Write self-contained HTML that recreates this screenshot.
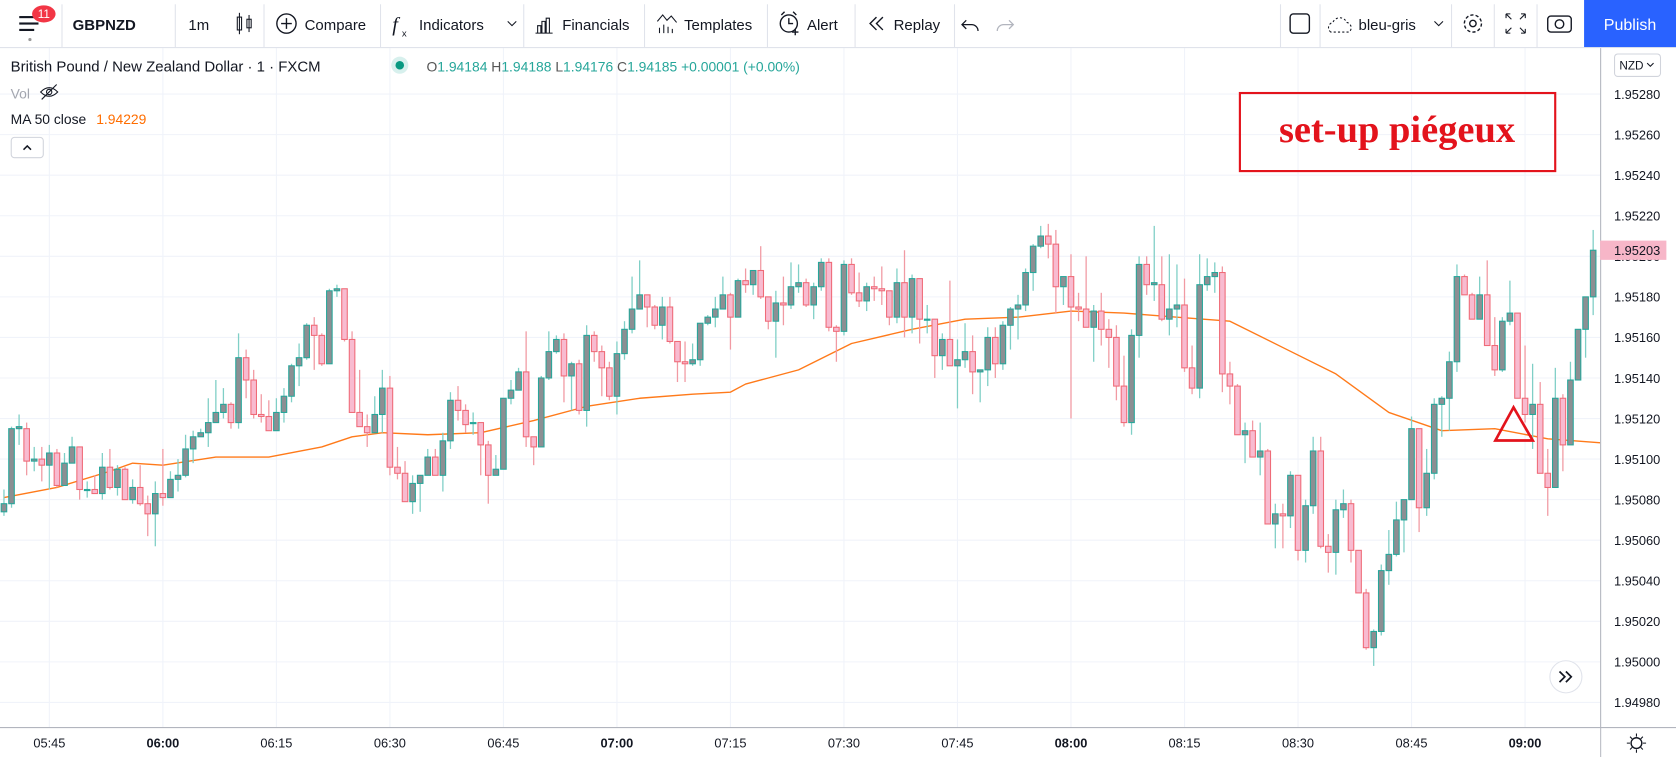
<!DOCTYPE html>
<html><head><meta charset="utf-8">
<style>
html,body{margin:0;padding:0;background:#fff;}
svg{display:block;}
text{font-family:"Liberation Sans","DejaVu Sans",sans-serif;}
</style></head>
<body>
<svg id="chart" xmlns="http://www.w3.org/2000/svg" width="1676" height="757" viewBox="0 0 1568 708" preserveAspectRatio="none">
  <rect x="0" y="0" width="1568" height="708" fill="#ffffff"/>
  <g id="grid"></g>
  <g id="ma"></g>
  <g id="candles"></g>

  <!-- toolbar -->
  <g>
    <rect x="0" y="0" width="1568" height="44" fill="#fff"/>
    <line x1="0" y1="44.5" x2="1568" y2="44.5" stroke="#e0e3eb"/>
    <g>
      <rect x="18" y="15" width="18" height="2" fill="#131722"/><rect x="18" y="21" width="18" height="2" fill="#131722"/><rect x="18" y="27" width="14" height="2" fill="#131722"/>
      <circle cx="28" cy="37" r="1.5" fill="#999"/>
      <ellipse cx="41" cy="13" rx="11" ry="8" fill="#f23645"/>
      <text x="41" y="17" font-size="11" fill="#fff" text-anchor="middle">11</text>
    </g>
    <line x1="58" y1="4" x2="58" y2="44" stroke="#e0e3eb"/>
    <text x="68" y="28" font-size="14" font-weight="bold" fill="#131722">GBPNZD</text>
    <line x1="164" y1="4" x2="164" y2="44" stroke="#e0e3eb"/>
    <text x="186" y="28" font-size="14" fill="#131722" text-anchor="middle">1m</text>
    <g><rect x="222" y="16" width="4" height="12" fill="none" stroke="#131722"/><line x1="224" y1="12" x2="224" y2="32" stroke="#131722"/><rect x="231" y="18" width="4" height="8" fill="none" stroke="#131722"/><line x1="233" y1="14" x2="233" y2="30" stroke="#131722"/></g>
    <line x1="247" y1="4" x2="247" y2="44" stroke="#e0e3eb"/>
    <g><circle cx="268" cy="22" r="9" fill="none" stroke="#131722" stroke-width="1.3"/><path d="M263 22h10M268 17v10" stroke="#131722" stroke-width="1.3"/><text x="285" y="28" font-size="14" fill="#131722">Compare</text></g>
    <line x1="356" y1="4" x2="356" y2="44" stroke="#e0e3eb"/>
    <g><text x="367" y="29" font-size="19" font-style="italic" fill="#131722" style="font-family:'Liberation Serif',serif">f</text><text x="376" y="34" font-size="9" fill="#131722">x</text><text x="392" y="28" font-size="14" fill="#131722">Indicators</text><path d="M475 20l4 4 4-4" fill="none" stroke="#131722"/></g>
    <line x1="490" y1="4" x2="490" y2="44" stroke="#e0e3eb"/>
    <g><path d="M501 31h16M503 31v-7h3v7M507 31v-11h3v11M511 31v-14h3v14" fill="none" stroke="#131722"/><text x="526" y="28" font-size="14" fill="#131722">Financials</text></g>
    <line x1="603" y1="4" x2="603" y2="44" stroke="#e0e3eb"/>
    <g><path d="M615 20l5-6 4 5 4-4 5 6M617 31v-5M621 31v-8M625 31v-6M629 31v-4" fill="none" stroke="#131722"/><text x="640" y="28" font-size="14" fill="#131722">Templates</text></g>
    <line x1="718" y1="4" x2="718" y2="44" stroke="#e0e3eb"/>
    <g><circle cx="738" cy="22" r="8" fill="none" stroke="#131722" stroke-width="1.3"/><path d="M738 17v5h4M731 14l3-3M745 14l-3-3M741 30h6M744 27v6" stroke="#131722" fill="none" stroke-width="1.3"/><text x="755" y="28" font-size="14" fill="#131722">Alert</text></g>
    <line x1="800" y1="4" x2="800" y2="44" stroke="#e0e3eb"/>
    <g><path d="M820 16l-6 6 6 6M826 16l-6 6 6 6" fill="none" stroke="#131722" stroke-width="1.3"/><text x="836" y="28" font-size="14" fill="#131722">Replay</text></g>
    <line x1="893" y1="4" x2="893" y2="44" stroke="#e0e3eb"/>
    <path d="M904 19l-4 4 4 4M900 23h9a6 6 0 0 1 6 6" fill="none" stroke="#131722" stroke-width="1.2"/>
    <path d="M944 19l4 4-4 4M948 23h-9a6 6 0 0 0-6 6" fill="none" stroke="#b2b5be" stroke-width="1.2"/>
    <line x1="1198" y1="4" x2="1198" y2="44" stroke="#e0e3eb"/>
    <rect x="1207" y="13" width="18" height="18" rx="3" fill="none" stroke="#131722" stroke-width="1.3"/>
    <line x1="1235" y1="4" x2="1235" y2="44" stroke="#e0e3eb"/>
    <g><path d="M1245 30a5 5 0 0 1 2-9a7 7 0 0 1 13 0a5 5 0 0 1 2 9z" fill="none" stroke="#131722" stroke-dasharray="2 2"/><text x="1271" y="28" font-size="14" fill="#131722">bleu-gris</text><path d="M1342 20l4 4 4-4" fill="none" stroke="#131722"/></g>
    <line x1="1358" y1="4" x2="1358" y2="44" stroke="#e0e3eb"/>
    <g><circle cx="1378" cy="22" r="8" fill="none" stroke="#131722" stroke-width="1.3" stroke-dasharray="3 2"/><circle cx="1378" cy="22" r="3" fill="none" stroke="#131722" stroke-width="1.3"/></g>
    <line x1="1398" y1="4" x2="1398" y2="44" stroke="#e0e3eb"/>
    <path d="M1409 13l5 5M1409 13v4M1409 13h4M1427 13l-5 5M1427 13v4M1427 13h-4M1409 31l5-5M1409 31v-4M1409 31h4M1427 31l-5-5M1427 31v-4M1427 31h-4" fill="none" stroke="#131722"/>
    <line x1="1438" y1="4" x2="1438" y2="44" stroke="#e0e3eb"/>
    <g><rect x="1448" y="15" width="22" height="15" rx="3" fill="none" stroke="#131722" stroke-width="1.3"/><circle cx="1459" cy="22.5" r="4" fill="none" stroke="#131722" stroke-width="1.3"/></g>
    <g><rect x="1482" y="0" width="86" height="44" fill="#2962ff"/><text x="1525" y="28" font-size="15" fill="#fff" text-anchor="middle">Publish</text></g>
  </g>

  <!-- legend -->
  <g>
    <text x="10" y="67" font-size="14" fill="#131722">British Pound / New Zealand Dollar · 1 · FXCM</text>
    <circle cx="374" cy="61" r="8" fill="#d7f0ed"/><circle cx="374" cy="61" r="4" fill="#089981"/>
    <text x="399" y="67" font-size="13" fill="#26a69a"><tspan fill="#555">O</tspan>1.94184 <tspan fill="#555">H</tspan>1.94188 <tspan fill="#555">L</tspan>1.94176 <tspan fill="#555">C</tspan>1.94185 +0.00001 (+0.00%)</text>
    <text x="10" y="92" font-size="13" fill="#a3a6af">Vol</text>
    <g><path d="M38 86q8-8 16 0q-8 8-16 0z" fill="none" stroke="#131722"/><circle cx="46" cy="86" r="2.5" fill="none" stroke="#131722"/><line x1="39" y1="93" x2="53" y2="79" stroke="#131722"/></g>
    <text x="10" y="116" font-size="13" fill="#131722">MA 50 close</text>
    <text x="90" y="116" font-size="13" fill="#ff6d00">1.94229</text>
    <g><rect x="10.5" y="128.5" width="30" height="19" rx="3" fill="#fff" stroke="#d1d4dc"/><path d="M22 140l3.5-3.5 3.5 3.5" fill="none" stroke="#131722" stroke-width="1.4"/></g>
  </g>

  <!-- annotation -->
  <g>
    <rect x="1160" y="87" width="295" height="73" fill="none" stroke="#e3131c" stroke-width="2"/>
    <text x="1307" y="133" font-size="36" font-weight="bold" fill="#e3131c" text-anchor="middle" style="font-family:'Liberation Serif','DejaVu Serif',serif">set-up piégeux</text>
  </g>
  <polygon points="1416,381 1399,412 1434,412" fill="none" stroke="#e3131c" stroke-width="2.5"/>

  <!-- scroll button -->
  <g>
    <circle cx="1465" cy="633" r="15" fill="#fff" stroke="#e0e3eb"/>
    <path d="M1459 628l5 5-5 5M1465 628l5 5-5 5" fill="none" stroke="#131722" stroke-width="1.6"/>
  </g>

  <!-- axes -->
  <g id="axes">
    <rect x="1497" y="45" width="71" height="663" fill="#fff"/>
    <line x1="1497.5" y1="45" x2="1497.5" y2="708" stroke="#b2b5be"/>
    <rect x="0" y="680" width="1497" height="28" fill="#fff"/>
    <line x1="0" y1="680.5" x2="1568" y2="680.5" stroke="#b2b5be"/>
    <g><rect x="1510.5" y="50.5" width="43" height="21" rx="3" fill="#fff" stroke="#d1d4dc"/><text x="1515" y="65" font-size="11" fill="#131722">NZD</text><path d="M1541 59l3 3 3-3" fill="none" stroke="#131722"/></g>
    <g><circle cx="1531" cy="695" r="5" fill="none" stroke="#131722" stroke-width="1.3"/><path d="M1531 686v3M1531 701v3M1522 695h3M1537 695h3M1525 689l2 2M1535 699l2 2M1537 689l-2 2M1525 701l2-2" stroke="#131722"/></g>
  </g>
  <g id="ylabels"></g>
  <g id="xlabels"></g>
  <g id="lastprice"></g>
</svg>
<script>
// ---- chart data (prices) ----
const opens=[1.95074,1.95078,1.95115,1.95115,1.95099,1.95100,1.95097,1.95103,1.95087,1.95098,
1.95106,1.95085,1.95085,1.95083,1.95096,1.95086,1.95095,1.95080,1.95086,1.95078,
1.95073,1.95083,1.95081,1.95090,1.95092,1.95105,1.95111,1.95113,1.95118,1.95123,
1.95127,1.95118,1.95150,1.95139,1.95122,1.95121,1.95114,1.95123,1.95131,1.95146,
1.95150,1.95166,1.95161,1.95147,1.95183,1.95184,1.95159,1.95123,1.95116,1.95113,
1.95122,1.95135,1.95096,1.95093,1.95079,1.95088,1.95092,1.95101,1.95092,1.95109,
1.95129,1.95124,1.95118,1.95118,1.95107,1.95092,1.95095,1.95130,1.95134,1.95143,
1.95111,1.95106,1.95140,1.95153,1.95159,1.95141,1.95147,1.95124,1.95161,1.95153,
1.95145,1.95131,1.95152,1.95164,1.95174,1.95181,1.95175,1.95166,1.95175,1.95158,
1.95148,1.95147,1.95149,1.95167,1.95170,1.95174,1.95181,1.95170,1.95188,1.95186,
1.95193,1.95180,1.95168,1.95177,1.95176,1.95185,1.95187,1.95176,1.95185,1.95197,
1.95165,1.95163,1.95196,1.95182,1.95178,1.95185,1.95184,1.95183,1.95170,1.95187,
1.95170,1.95189,1.95169,1.95169,1.95151,1.95159,1.95146,1.95149,1.95153,1.95143,
1.95144,1.95160,1.95147,1.95166,1.95174,1.95176,1.95192,1.95205,1.95210,1.95206,
1.95185,1.95190,1.95175,1.95174,1.95165,1.95173,1.95164,1.95160,1.95136,1.95118,
1.95161,1.95196,1.95186,1.95186,1.95169,1.95174,1.95176,1.95145,1.95135,1.95186,
1.95190,1.95192,1.95142,1.95136,1.95112,1.95114,1.95101,1.95104,1.95068,1.95073,
1.95072,1.95092,1.95055,1.95077,1.95104,1.95057,1.95054,1.95075,1.95078,1.95055,
1.95034,1.95007,1.95015,1.95045,1.95053,1.95070,1.95080,1.95115,1.95076,1.95093,
1.95127,1.95130,1.95148,1.95190,1.95181,1.95169,1.95181,1.95156,1.95144,1.95168,
1.95172,1.95130,1.95122,1.95127,1.95093,1.95086,1.95130,1.95107,1.95139,1.95164,
1.95180];
const highs=[1.95085,1.95116,1.95122,1.95118,1.95106,1.95106,1.95107,1.95105,1.95103,1.95111,
1.95106,1.95089,1.95092,1.95103,1.95105,1.95097,1.95096,1.95090,1.95097,1.95082,
1.95089,1.95105,1.95094,1.95100,1.95112,1.95114,1.95115,1.95130,1.95139,1.95135,
1.95128,1.95162,1.95154,1.95144,1.95132,1.95129,1.95130,1.95135,1.95147,1.95157,
1.95167,1.95170,1.95162,1.95184,1.95186,1.95184,1.95163,1.95144,1.95122,1.95131,
1.95144,1.95141,1.95106,1.95099,1.95092,1.95092,1.95105,1.95105,1.95113,1.95133,
1.95136,1.95127,1.95123,1.95118,1.95109,1.95102,1.95130,1.95139,1.95145,1.95163,
1.95111,1.95141,1.95163,1.95161,1.95162,1.95148,1.95149,1.95166,1.95163,1.95156,
1.95148,1.95158,1.95168,1.95190,1.95198,1.95181,1.95176,1.95180,1.95180,1.95158,
1.95158,1.95157,1.95167,1.95171,1.95180,1.95190,1.95182,1.95189,1.95194,1.95193,
1.95205,1.95180,1.95183,1.95190,1.95197,1.95196,1.95189,1.95187,1.95199,1.95199,
1.95166,1.95198,1.95199,1.95192,1.95187,1.95190,1.95195,1.95183,1.95194,1.95203,
1.95191,1.95189,1.95176,1.95169,1.95162,1.95188,1.95159,1.95167,1.95161,1.95144,
1.95165,1.95165,1.95168,1.95175,1.95181,1.95194,1.95206,1.95215,1.95216,1.95213,
1.95190,1.95201,1.95182,1.95200,1.95176,1.95182,1.95169,1.95166,1.95151,1.95164,
1.95200,1.95200,1.95215,1.95200,1.95201,1.95196,1.95189,1.95156,1.95201,1.95199,
1.95197,1.95195,1.95148,1.95137,1.95118,1.95119,1.95118,1.95105,1.95078,1.95078,
1.95094,1.95092,1.95080,1.95111,1.95111,1.95063,1.95080,1.95085,1.95080,1.95055,
1.95036,1.95016,1.95048,1.95065,1.95079,1.95080,1.95121,1.95115,1.95105,1.95130,
1.95131,1.95153,1.95196,1.95191,1.95182,1.95190,1.95198,1.95170,1.95170,1.95188,
1.95172,1.95156,1.95147,1.95138,1.95105,1.95145,1.95132,1.95148,1.95164,1.95180,
1.95213];
const lows=[1.95072,1.95076,1.95107,1.95092,1.95094,1.95089,1.95085,1.95086,1.95087,1.95098,
1.95080,1.95081,1.95083,1.95080,1.95085,1.95082,1.95080,1.95078,1.95077,1.95062,
1.95057,1.95077,1.95081,1.95084,1.95091,1.95098,1.95111,1.95106,1.95118,1.95120,
1.95115,1.95115,1.95130,1.95120,1.95118,1.95114,1.95114,1.95118,1.95128,1.95136,
1.95149,1.95144,1.95146,1.95147,1.95180,1.95158,1.95123,1.95116,1.95106,1.95113,
1.95113,1.95092,1.95090,1.95079,1.95073,1.95074,1.95092,1.95092,1.95084,1.95105,
1.95119,1.95113,1.95112,1.95092,1.95078,1.95092,1.95095,1.95127,1.95134,1.95106,
1.95097,1.95106,1.95139,1.95152,1.95128,1.95124,1.95122,1.95116,1.95148,1.95131,
1.95129,1.95122,1.95149,1.95162,1.95174,1.95165,1.95164,1.95159,1.95157,1.95138,
1.95138,1.95146,1.95146,1.95166,1.95165,1.95174,1.95154,1.95170,1.95182,1.95181,
1.95179,1.95164,1.95150,1.95166,1.95174,1.95182,1.95175,1.95169,1.95183,1.95163,
1.95148,1.95161,1.95181,1.95175,1.95173,1.95178,1.95176,1.95166,1.95167,1.95160,
1.95162,1.95157,1.95162,1.95140,1.95144,1.95146,1.95125,1.95145,1.95132,1.95128,
1.95136,1.95140,1.95144,1.95154,1.95159,1.95173,1.95183,1.95204,1.95199,1.95172,
1.95176,1.95120,1.95168,1.95165,1.95148,1.95156,1.95145,1.95129,1.95116,1.95112,
1.95150,1.95181,1.95178,1.95168,1.95161,1.95165,1.95143,1.95132,1.95130,1.95183,
1.95182,1.95133,1.95127,1.95112,1.95098,1.95101,1.95092,1.95068,1.95056,1.95056,
1.95066,1.95050,1.95049,1.95073,1.95056,1.95044,1.95043,1.95071,1.95049,1.95034,
1.95006,1.94998,1.95013,1.95038,1.95052,1.95054,1.95080,1.95064,1.95072,1.95090,
1.95111,1.95114,1.95143,1.95181,1.95169,1.95169,1.95156,1.95141,1.95143,1.95166,
1.95130,1.95118,1.95105,1.95093,1.95072,1.95086,1.95094,1.95107,1.95139,1.95150,
1.95171];
const closes=[1.95078,1.95115,1.95116,1.95099,1.95100,1.95097,1.95103,1.95087,1.95098,1.95106,
1.95085,1.95085,1.95083,1.95096,1.95086,1.95095,1.95080,1.95086,1.95078,1.95073,
1.95083,1.95081,1.95090,1.95092,1.95105,1.95111,1.95113,1.95118,1.95123,1.95127,
1.95118,1.95150,1.95139,1.95122,1.95121,1.95114,1.95123,1.95131,1.95146,1.95150,
1.95166,1.95161,1.95147,1.95183,1.95184,1.95159,1.95123,1.95116,1.95113,1.95122,
1.95135,1.95096,1.95093,1.95079,1.95088,1.95092,1.95101,1.95092,1.95109,1.95129,
1.95124,1.95117,1.95118,1.95107,1.95092,1.95095,1.95130,1.95134,1.95143,1.95111,
1.95106,1.95140,1.95153,1.95159,1.95141,1.95147,1.95124,1.95161,1.95153,1.95145,
1.95131,1.95152,1.95164,1.95174,1.95181,1.95175,1.95166,1.95175,1.95158,1.95148,
1.95147,1.95149,1.95167,1.95170,1.95174,1.95181,1.95170,1.95188,1.95186,1.95193,
1.95180,1.95168,1.95177,1.95176,1.95185,1.95187,1.95176,1.95185,1.95197,1.95165,
1.95163,1.95196,1.95182,1.95178,1.95185,1.95184,1.95183,1.95170,1.95187,1.95170,
1.95189,1.95169,1.95169,1.95151,1.95159,1.95146,1.95149,1.95153,1.95143,1.95144,
1.95160,1.95147,1.95166,1.95174,1.95176,1.95192,1.95205,1.95210,1.95206,1.95185,
1.95190,1.95175,1.95174,1.95165,1.95173,1.95164,1.95160,1.95136,1.95118,1.95161,
1.95196,1.95186,1.95187,1.95169,1.95174,1.95176,1.95145,1.95135,1.95186,1.95190,
1.95192,1.95142,1.95136,1.95112,1.95114,1.95101,1.95104,1.95068,1.95073,1.95072,
1.95092,1.95055,1.95077,1.95104,1.95057,1.95054,1.95075,1.95078,1.95055,1.95034,
1.95007,1.95015,1.95045,1.95053,1.95070,1.95080,1.95115,1.95076,1.95093,1.95127,
1.95130,1.95148,1.95190,1.95181,1.95169,1.95181,1.95156,1.95144,1.95168,1.95172,
1.95130,1.95122,1.95127,1.95093,1.95086,1.95130,1.95107,1.95139,1.95164,1.95180,
1.95203];
// MA 50 sampled at candle indices
const maIndex=[0,7,14,17,21,28,35,42,46,50,56,63,70,77,84,91,96,98,105,112,120,127,134,141,148,155,162,169,176,183,190,197,204,211];
const maValues=[1.95081,1.95086,1.95094,1.95098,1.95097,1.95101,1.95101,1.95106,1.95111,1.95113,1.95112,1.95113,1.95119,1.95126,1.95130,1.95132,1.95133,1.95137,1.95144,1.95157,1.95164,1.95169,1.95170,1.95173,1.95172,1.95170,1.95168,1.95155,1.95142,1.95123,1.95114,1.95115,1.95110,1.95108];
const priceTicks=[1.95280,1.95260,1.95240,1.95220,1.95200,1.95180,1.95160,1.95140,1.95120,1.95100,1.95080,1.95060,1.95040,1.95020,1.95000,1.94980];
const timeLabels=["05:45","06:00","06:15","06:30","06:45","07:00","07:15","07:30","07:45","08:00","08:15","08:30","08:45","09:00"];
const timeIndex=[6,21,36,51,66,81,96,111,126,141,156,171,186,201];
const timeBold=[false,true,false,false,false,true,false,false,false,true,false,false,false,true];
const lastPrice=1.95203;

// ---- axis functions ----
const NS="http://www.w3.org/2000/svg";
function yOf(p){return 88+(1.9528-p)*189650;}
function xOf(i){return 3.7+i*7.08;}
function mk(tag,attrs,parent){const e=document.createElementNS(NS,tag);for(const k in attrs)e.setAttribute(k,attrs[k]);parent.appendChild(e);return e;}

const grid=document.getElementById('grid');
priceTicks.forEach(function(p){
  const l=mk('line',{x1:0,x2:1497,y1:yOf(p),y2:yOf(p),stroke:'#f0f3fa','stroke-width':1},grid);
  
  
});
timeIndex.forEach(function(ix){
  const l=mk('line',{x1:xOf(ix),x2:xOf(ix),y1:45,y2:680,stroke:'#f0f3fa','stroke-width':1},grid);
  
  
});

const cg=document.getElementById('candles');
for(let i=0;i<closes.length;i++){
  const up=closes[i]>=opens[i];
  const x=xOf(i);
  const g=mk('g',{},cg);
  
  
  mk('line',{x1:x,x2:x,y1:yOf(highs[i]),y2:yOf(lows[i]),stroke:up?'#7fcfc6':'#f19aa3','stroke-width':1.2},g);
  const top=yOf(Math.max(opens[i],closes[i])),bot=yOf(Math.min(opens[i],closes[i]));
  mk('rect',{x:x-2.6,y:top,width:5.2,height:Math.max(1,bot-top),fill:up?'#8c8f93':'#f8bbd0',stroke:up?'#26a69a':'#ef6b78','stroke-width':1},g);
}

const mg=document.getElementById('ma');
const pts=maIndex.map(function(ix,k){return xOf(ix)+','+yOf(maValues[k]);}).join(' ');
const pl=mk('polyline',{points:pts,fill:'none',stroke:'#ff7a1a','stroke-width':1.3,'stroke-linejoin':'round'},mg);



const yl=document.getElementById('ylabels');
priceTicks.forEach(function(p){
  const t=mk('text',{x:1510,y:yOf(p)+4.5,'font-size':12,fill:'#131722'},yl);
  t.textContent=p.toFixed(5);
  
  
});
const xl=document.getElementById('xlabels');
timeLabels.forEach(function(s,k){
  const t=mk('text',{x:xOf(timeIndex[k]),y:699,'font-size':12,fill:'#131722','text-anchor':'middle','font-weight':timeBold[k]?'bold':'normal'},xl);
  t.textContent=s;
  
  
});
const lp=document.getElementById('lastprice');
const ly=yOf(lastPrice);
mk('rect',{x:1497,y:ly-9,width:62,height:18,fill:'#f7b6c8'},lp);
const lt=mk('text',{x:1510,y:ly+4.5,'font-size':12,fill:'#131722'},lp);
lt.textContent=lastPrice.toFixed(5);


</script>
</body></html>
